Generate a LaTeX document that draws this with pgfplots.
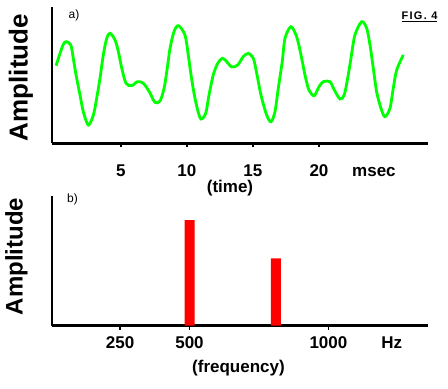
\documentclass[border=0pt]{standalone}
\usepackage{pgfplots}
\pgfplotsset{compat=1.18}
\usepackage{fontspec}
\setmainfont{Liberation Sans}
\definecolor{lgreen}{RGB}{0,255,0}
\definecolor{lred}{RGB}{255,0,0}
\begin{document}
\begin{tikzpicture}[x=1bp,y=1bp]
\useasboundingbox (0,0) rectangle (448,388);
\pgfplotsset{
  myax/.style={
    scale only axis, width=376bp,
    axis lines=left,
    axis line style={line width=2.6bp,-},
    ytick=\empty,
    tick align=outside,
    major tick length=4bp,
    xtick style={black, line width=1.6bp},
    tick label style={font=\bfseries\fontsize{17bp}{20bp}\selectfont},
    xticklabel style={anchor=base},
    /pgf/number format/assume math mode=true,
    clip=false,
  }
}
\begin{axis}[myax, at={(52bp,244.7bp)}, anchor=south west, height=136bp,
  xmin=-0.2, xmax=28.25, ymin=0, ymax=136,
  xtick={5,10,15,20}, xticklabels={\textbf{5},\textbf{10},\textbf{15},\textbf{20}},
  extra x ticks={24.16}, extra x tick labels={\textbf{msec}},
  extra x tick style={major tick length=0pt, grid=none, xticklabel style={yshift=-4bp}},
  xticklabel style={yshift=-28.7bp}]
\addplot[lgreen, line width=2.8bp, smooth] table {
x y
0.11 77.6
0.41 90
0.66 99
0.86 101.6
1.22 98.3
1.41 85
1.62 68.3
1.87 51.6
2.17 31.6
2.55 18.3
2.93 28.3
3.18 45
3.43 65
3.68 88.3
3.94 105
4.19 110
4.57 103.3
4.82 91.6
5.08 75
5.40 60
5.83 57.6
6.26 61.6
6.71 60
7.16 51.6
7.59 41
7.97 42.3
8.28 55
8.52 75
8.73 95
9.03 111.6
9.36 117.6
9.86 108.3
10.11 88.3
10.32 68.3
10.57 48.3
10.82 33.3
11.07 24.3
11.43 30
11.68 48.3
12.00 68.3
12.34 80
12.69 85
13.02 81.6
13.40 76.3
13.85 78.3
14.27 86.6
14.65 90
15.03 85
15.29 70
15.61 48.3
16.04 28.3
16.37 21.6
16.67 31.6
16.92 55
17.22 81.6
17.43 105
17.88 116.6
18.31 106.6
18.64 88.3
18.94 68.3
19.24 53.3
19.64 47.6
20.00 56.6
20.33 61.6
20.83 61.6
21.16 53.3
21.59 44.3
21.91 48.3
22.17 65
22.42 85
22.72 108.3
23.23 121.6
23.61 115
23.86 98.3
24.11 75
24.36 51.6
24.69 35
24.99 26.6
25.37 35
25.62 55
25.88 73.3
26.38 88.3
};
\end{axis}
\begin{axis}[myax, at={(52bp,62.3bp)}, anchor=south west, height=129.7bp,
  xmin=5, xmax=1358.5, ymin=0, ymax=129.7,
  xtick={250,500,1000}, xticklabels={\textbf{250},\textbf{500},\textbf{1000}},
  extra x ticks={1228}, extra x tick labels={\textbf{Hz}},
  extra x tick style={major tick length=0pt, grid=none, xticklabel style={yshift=-4bp}},
  xticklabel style={yshift=-19bp}]
\addplot[ybar, bar width=10bp, fill=lred, draw=none] coordinates {(500,105.7) (811,67.4)};
\end{axis}
\node[font=\bfseries\fontsize{17bp}{20bp}\selectfont] at (230,200) {(time)};
\node[font=\bfseries\fontsize{17bp}{20bp}\selectfont] at (238.5,19.7) {(frequency)};
\node[font=\bfseries\fontsize{26bp}{30bp}\selectfont, rotate=90] at (21,310.5) {Amplitude};
\node[font=\bfseries\fontsize{24bp}{28bp}\selectfont, rotate=90] at (16.5,131.5) {Amplitude};
\node[font=\fontsize{12bp}{14bp}\selectfont] at (74,373) {a)};
\node[font=\fontsize{12bp}{14bp}\selectfont] at (72.5,189) {b)};
\node[font=\bfseries\fontsize{11bp}{13bp}\selectfont\addfontfeature{LetterSpace=12}] at (419.5,371) {\underline{FIG. 4}};
\end{tikzpicture}
\end{document}
